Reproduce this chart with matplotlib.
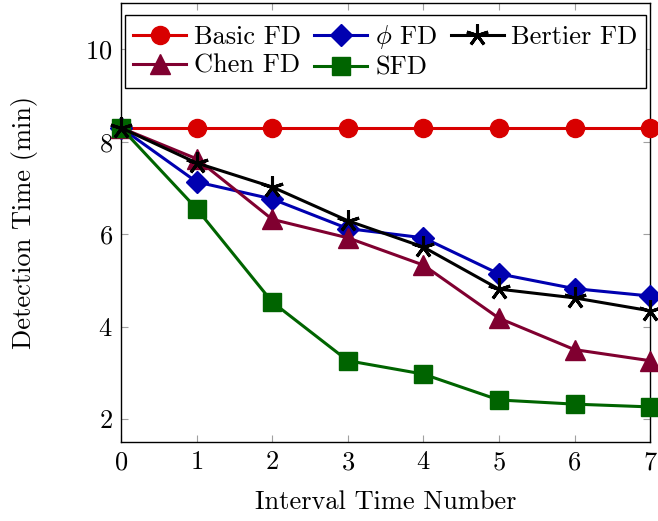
import matplotlib
matplotlib.use("Agg")
import matplotlib.pyplot as plt

x = [0, 1, 2, 3, 4, 5, 6, 7]
basic = [8.3, 8.3, 8.3, 8.3, 8.3, 8.3, 8.3, 8.3]
phi = [8.3, 7.13, 6.76, 6.12, 5.92, 5.14, 4.82, 4.66]
bertier = [8.3, 7.54, 7.02, 6.29, 5.72, 4.81, 4.62, 4.34]
chen = [8.3, 7.63, 6.32, 5.92, 5.33, 4.18, 3.50, 3.26]
sfd = [8.3, 6.55, 4.53, 3.26, 2.97, 2.41, 2.32, 2.26]

plt.rcParams['font.family'] = ['cmr10']
plt.rcParams['mathtext.fontset'] = 'cm'
plt.rcParams['axes.formatter.use_mathtext'] = True

fig = plt.figure(figsize=(6.58, 5.21), dpi=100)
ax = fig.add_axes([0.184, 0.1516, 0.804, 0.8424])

lw = 2.2
h_basic, = ax.plot(x, basic, color='#D80000', marker='o', markersize=13, lw=lw, label='Basic FD', clip_on=False, zorder=3)
h_phi, = ax.plot(x, phi, color='#0000B0', marker='D', markersize=11, lw=lw, label=r'$\phi$ FD', clip_on=False, zorder=3)
h_bert, = ax.plot(x, bertier, color='black', marker=(5, 2, 0), markersize=16, mew=2.2, lw=lw, label='Bertier FD', clip_on=False, zorder=4)
h_chen, = ax.plot(x, chen, color='#800030', marker='^', markersize=14, lw=lw, label='Chen FD', clip_on=False, zorder=3)
h_sfd, = ax.plot(x, sfd, color='#006400', marker='s', markersize=12.5, lw=lw, label='SFD', clip_on=False, zorder=3)

ax.set_xlim(0, 7)
ax.set_ylim(1.5, 11)
ax.set_xticks(x)
ax.set_yticks([2, 4, 6, 8, 10])
ax.tick_params(direction='in', length=5, width=0.8, color='#a0a0a0', labelsize=19,
               top=True, right=True, pad=6)
for s in ax.spines.values():
    s.set_linewidth(1.0)
ax.set_xlabel('Interval Time Number', fontsize=19, labelpad=12)
ax.set_ylabel('Detection Time (min)', fontsize=19, labelpad=34)

handles = [h_basic, h_chen, h_phi, h_sfd, h_bert]
leg = ax.legend(handles, [h.get_label() for h in handles],
                loc='upper center', bbox_to_anchor=(0.5, 0.985), ncol=3, fontsize=19,
                frameon=True, fancybox=False, edgecolor='black', framealpha=1,
                handlelength=2.0, handletextpad=0.3, columnspacing=0.5,
                borderpad=0.3, labelspacing=0.2, borderaxespad=0.2)
leg.get_frame().set_linewidth(1.0)

fig.savefig('out.png', dpi=100)
